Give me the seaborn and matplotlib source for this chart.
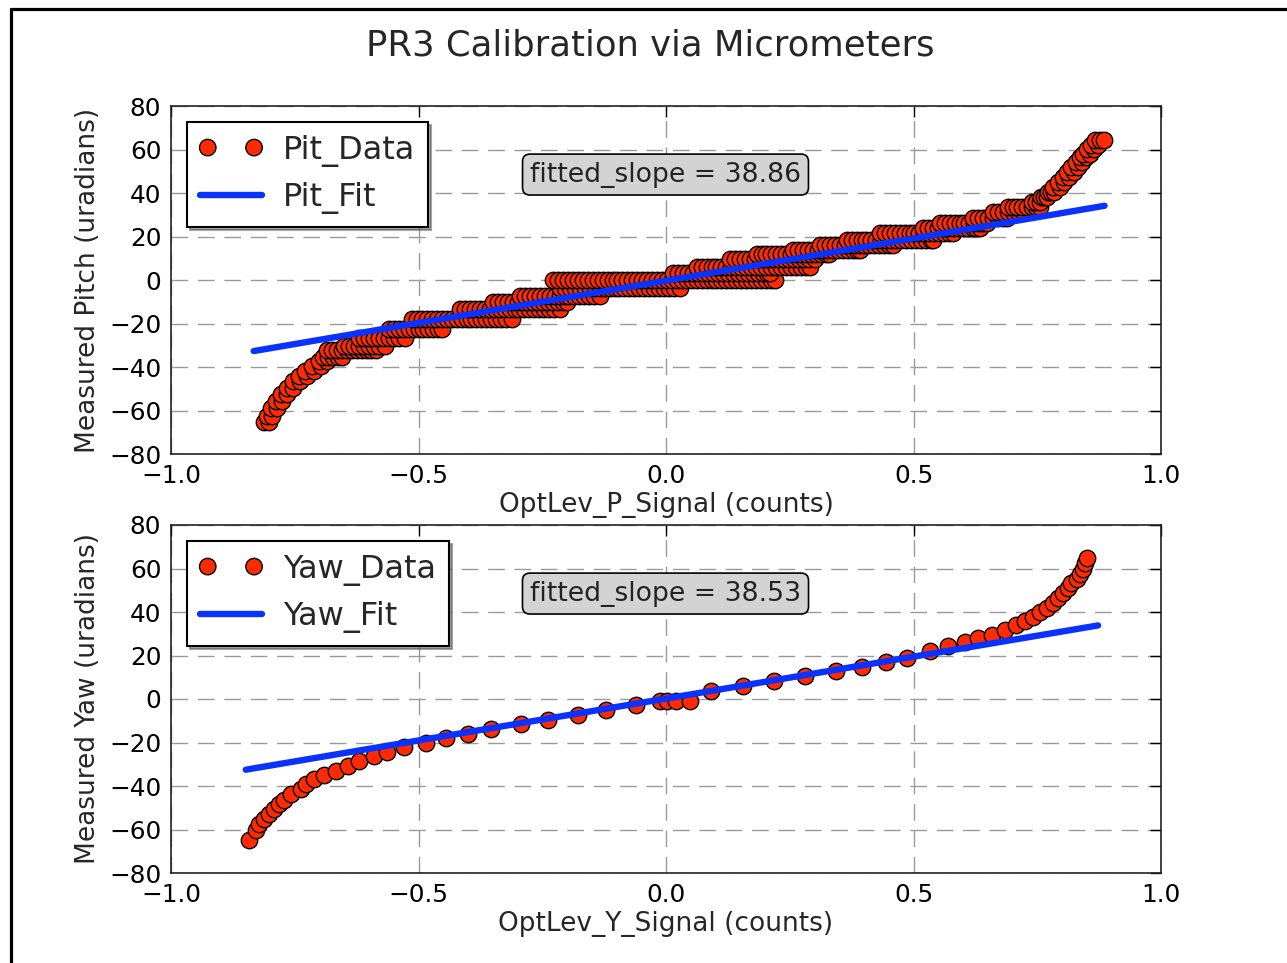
import numpy as np
import pandas as pd
import matplotlib
matplotlib.use("Agg")
import matplotlib.pyplot as plt
from matplotlib.lines import Line2D
from matplotlib.collections import PathCollection
from matplotlib.legend_handler import HandlerPathCollection
import seaborn as sns

# ---------------- data ----------------
title = "PR3 Calibration via Micrometers"

# Pitch calibration: micrometer levels (uradians) and the signal readings at each level
pit_levels = [-65.2, -62.5, -58.7, -55.6, -52.6, -49.5, -46.5, -44.2, -41.9, -39.6,
              -37.3, -35.3, -32.3, -30.5, -26.5, -22.5, -18.0, -13.4, -10.3, -7.3,
              -3.5, 0.0, 3.2, 6.2, 9.5, 11.8, 13.8, 16.1, 18.5, 21.4,
              23.7, 26.0, 28.3, 31.3, 33.6, 35.9, 38.2, 40.5, 42.8, 45.1,
              47.4, 49.7, 52.0, 54.3, 56.6, 58.1, 60.4, 62.0, 64.2]
pit_signal = [
    [-0.812, -0.803],
    [-0.806, -0.796],
    [-0.797, -0.786],
    [-0.787, -0.776],
    [-0.777, -0.765],
    [-0.766, -0.753],
    [-0.754, -0.740],
    [-0.742, -0.726],
    [-0.729, -0.712],
    [-0.715, -0.697],
    [-0.702, -0.684],
    [-0.692, -0.682, -0.672, -0.662, -0.655],
    [-0.685, -0.675, -0.665, -0.655, -0.645, -0.635, -0.625, -0.615, -0.605, -0.595, -0.585],
    [-0.650, -0.640, -0.630, -0.620, -0.610, -0.600, -0.590, -0.580, -0.567],
    [-0.620, -0.610, -0.600, -0.590, -0.580, -0.570, -0.560, -0.550, -0.540, -0.527],
    [-0.560, -0.550, -0.540, -0.530, -0.520, -0.510, -0.500, -0.490, -0.480, -0.470, -0.460, -0.453],
    [-0.513, -0.503, -0.493, -0.483, -0.473, -0.463, -0.453, -0.443, -0.433, -0.423, -0.413,
     -0.403, -0.393, -0.383, -0.373, -0.363, -0.353, -0.343, -0.333, -0.323, -0.311],
    [-0.416, -0.406, -0.396, -0.386, -0.376, -0.366, -0.356, -0.346, -0.336, -0.326, -0.316,
     -0.306, -0.296, -0.286, -0.276, -0.266, -0.256, -0.246, -0.236, -0.226, -0.214],
    [-0.349, -0.339, -0.329, -0.319, -0.309, -0.299, -0.289, -0.279, -0.269, -0.259, -0.249,
     -0.239, -0.229, -0.219, -0.209, -0.200],
    [-0.295, -0.285, -0.275, -0.265, -0.255, -0.245, -0.235, -0.225, -0.215, -0.205, -0.195,
     -0.185, -0.175, -0.165, -0.155, -0.145, -0.134],
    [-0.214, -0.204, -0.194, -0.184, -0.174, -0.164, -0.154, -0.144, -0.134, -0.124, -0.114,
     -0.104, -0.094, -0.084, -0.074, -0.064, -0.054, -0.044, -0.034, -0.024, -0.014, -0.004,
     0.006, 0.016, 0.028],
    [-0.228, -0.218, -0.208, -0.198, -0.188, -0.178, -0.168, -0.158, -0.148, -0.138, -0.128,
     -0.118, -0.108, -0.098, -0.088, -0.078, -0.068, -0.058, -0.048, -0.038, -0.028, -0.018,
     -0.008, 0.002, 0.012, 0.022, 0.032, 0.042, 0.052, 0.062, 0.072, 0.082, 0.092, 0.102,
     0.112, 0.122, 0.132, 0.142, 0.152, 0.162, 0.172, 0.182, 0.192, 0.202, 0.212, 0.220],
    [0.015, 0.025, 0.035, 0.045, 0.055, 0.065, 0.075, 0.085, 0.095, 0.105, 0.115, 0.125,
     0.135, 0.145, 0.155, 0.165, 0.175, 0.185, 0.195, 0.205, 0.210],
    [0.062, 0.072, 0.082, 0.092, 0.102, 0.112, 0.122, 0.132, 0.142, 0.152, 0.162, 0.172,
     0.182, 0.192, 0.202, 0.212, 0.222, 0.232, 0.242, 0.252, 0.262, 0.272, 0.282, 0.290],
    [0.129, 0.139, 0.149, 0.159, 0.169, 0.179, 0.189, 0.199, 0.209, 0.219, 0.229, 0.239,
     0.249, 0.259, 0.269, 0.279, 0.289, 0.300],
    [0.183, 0.193, 0.203, 0.213, 0.223, 0.233, 0.243, 0.253, 0.263, 0.273, 0.283, 0.293,
     0.303, 0.313, 0.323, 0.330],
    [0.257, 0.267, 0.277, 0.287, 0.297, 0.307, 0.317, 0.327, 0.337, 0.347, 0.357, 0.367,
     0.377, 0.385, 0.392],
    [0.311, 0.321, 0.331, 0.341, 0.351, 0.361, 0.371, 0.381, 0.391, 0.401, 0.411, 0.421,
     0.431, 0.441, 0.451, 0.459],
    [0.365, 0.375, 0.385, 0.395, 0.405, 0.415, 0.425, 0.435, 0.445, 0.455, 0.465, 0.475,
     0.485, 0.495, 0.505, 0.515, 0.525, 0.535, 0.540],
    [0.432, 0.442, 0.452, 0.462, 0.472, 0.482, 0.492, 0.502, 0.512, 0.522, 0.532, 0.542,
     0.552, 0.562, 0.572, 0.580],
    [0.520, 0.530, 0.540, 0.550, 0.560, 0.570, 0.580, 0.590, 0.600, 0.610, 0.620, 0.627, 0.634],
    [0.553, 0.563, 0.573, 0.583, 0.593, 0.603, 0.613, 0.623, 0.633, 0.641, 0.648],
    [0.620, 0.630, 0.640, 0.650, 0.660, 0.670, 0.680, 0.688],
    [0.661, 0.671, 0.681, 0.691, 0.701, 0.711, 0.722],
    [0.690, 0.700, 0.710, 0.720, 0.730, 0.740, 0.748, 0.755],
    [0.740, 0.748, 0.755],
    [0.757, 0.764, 0.770],
    [0.771, 0.778, 0.784],
    [0.782, 0.795],
    [0.792, 0.805],
    [0.802, 0.815],
    [0.811, 0.824],
    [0.819, 0.832],
    [0.829, 0.841],
    [0.836, 0.849],
    [0.843, 0.856],
    [0.850, 0.864],
    [0.858, 0.873],
    [0.866, 0.876, 0.884],
]
pit_slope = 38.86
pit_intercept = -0.3
pit_fit_x = [-0.833, 0.886]

# Yaw calibration
yaw_signal = [-0.842, -0.829, -0.822, -0.812, -0.802, -0.792, -0.782, -0.772, -0.758, -0.738,
              -0.728, -0.711, -0.691, -0.667, -0.643, -0.620, -0.590, -0.563, -0.529, -0.485,
              -0.444, -0.401, -0.354, -0.293, -0.239, -0.178, -0.121, -0.060, -0.013, 0.003,
              0.021, 0.048, 0.091, 0.155, 0.219, 0.280, 0.344, 0.395, 0.445, 0.486,
              0.533, 0.570, 0.604, 0.631, 0.658, 0.685, 0.708, 0.725, 0.742, 0.755,
              0.769, 0.782, 0.792, 0.802, 0.813, 0.819, 0.830, 0.836, 0.843, 0.847, 0.850]
yaw_measured = [-64.9, -60.3, -57.3, -55.0, -52.7, -50.4, -48.1, -46.3, -43.6, -41.3,
                -39.0, -36.7, -34.9, -32.9, -30.6, -28.3, -26.1, -24.2, -22.2, -20.0,
                -18.1, -16.2, -13.9, -11.6, -9.6, -7.3, -5.2, -2.7, -0.9, -0.9,
                -0.9, -0.9, 3.7, 5.9, 8.2, 10.5, 12.8, 14.8, 16.9, 18.9,
                21.9, 24.2, 26.2, 28.0, 29.6, 31.9, 33.8, 36.0, 37.9, 39.9,
                41.7, 44.0, 46.3, 48.6, 50.9, 53.2, 55.4, 57.7, 60.0, 62.3, 64.6]
yaw_slope = 38.53
yaw_intercept = 0.2
yaw_fit_x = [-0.849, 0.873]

x_ticks = [-1.0, -0.5, 0.0, 0.5, 1.0]
y_ticks = [-80, -60, -40, -20, 0, 20, 40, 60, 80]

# ---------------- style ----------------
sns.set_style("white")
plt.rcParams['font.family'] = ['DejaVu Sans']
plt.rcParams['axes.unicode_minus'] = True

RED = '#ff2a00'
BLUE = '#0a32ff'
MSIZE = 140

W, H = 1287, 963
fig = plt.figure(figsize=(W / 100, H / 100), dpi=100)
fig.patch.set_facecolor('white')

ax1 = fig.add_axes([171 / W, 1 - 454 / H, 990 / W, 348 / H])
ax2 = fig.add_axes([171 / W, 1 - 873 / H, 990 / W, 348 / H])

pit_df = pd.DataFrame({
    'signal': [x for xs in pit_signal for x in xs],
    'measured': [lv for lv, xs in zip(pit_levels, pit_signal) for _ in xs],
})
yaw_df = pd.DataFrame({'signal': yaw_signal, 'measured': yaw_measured})


def panel(ax, df, fit_x, slope, intercept, dlabel, flabel, xlabel, ylabel, slope_txt):
    sns.scatterplot(data=df, x='signal', y='measured', ax=ax, color=RED,
                    edgecolor='black', linewidth=1.0, s=MSIZE, label=dlabel, zorder=3)
    fx = np.array(fit_x)
    sns.lineplot(x=fx, y=slope * fx + intercept, ax=ax, color=BLUE,
                 linewidth=4.6, label=flabel, zorder=4)
    ax.set_xlim(-1, 1)
    ax.set_ylim(-80, 80)
    ax.set_xticks(x_ticks)
    ax.set_yticks(y_ticks)
    ax.grid(True, color='#9a9a9a', linestyle=(0, (12, 7)), linewidth=1.0)
    ax.set_axisbelow(True)
    ax.tick_params(direction='in', length=8, width=1, top=True, right=True,
                   labelsize=17.8, pad=7, colors='black')
    for sp in ax.spines.values():
        sp.set_color('#222222')
        sp.set_linewidth(1.2)
    ax.set_xlabel(xlabel, fontsize=19)
    ax.set_ylabel(ylabel, fontsize=19)
    ax.xaxis.set_label_coords(0.5, -0.108)
    ax.yaxis.set_label_coords(-0.071, 0.5)
    leg = ax.legend(loc='upper left', scatterpoints=2, scatteryoffsets=[0.5],
                    shadow=True, fancybox=False,
                    frameon=True, fontsize=23, framealpha=1, edgecolor='black',
                    borderaxespad=0.5, borderpad=0.4, handlelength=1.95,
                    handletextpad=0.66, labelspacing=0.49,
                    handler_map={PathCollection: HandlerPathCollection(
                        marker_pad=0.25, sizes=[MSIZE, MSIZE])})
    leg.get_frame().set_linewidth(1.5)
    ax.text(0.4995, 0.803, slope_txt, transform=ax.transAxes, ha='center', va='center',
            fontsize=19.2, color='#222222',
            bbox=dict(boxstyle='round,pad=0.28', facecolor='#d3d3d3',
                      edgecolor='black', linewidth=1.2))


panel(ax1, pit_df, pit_fit_x, pit_slope, pit_intercept, 'Pit_Data', 'Pit_Fit',
      'OptLev_P_Signal (counts)', 'Measured Pitch (uradians)', 'fitted_slope = 38.86')
panel(ax2, yaw_df, yaw_fit_x, yaw_slope, yaw_intercept, 'Yaw_Data', 'Yaw_Fit',
      'OptLev_Y_Signal (counts)', 'Measured Yaw (uradians)', 'fitted_slope = 38.53')

fig.text(650 / W, 1 - 45 / H, title, ha='center', va='center', fontsize=25.5)

# outer frame of the original figure (left and top edges visible)
fig.add_artist(Line2D([10.5 / W, 10.5 / W], [0, 1 - 9.5 / H], transform=fig.transFigure,
                      color='black', linewidth=2.3))
fig.add_artist(Line2D([10.5 / W, 1.0], [1 - 9.5 / H, 1 - 9.5 / H], transform=fig.transFigure,
                      color='black', linewidth=2.3))

fig.savefig('out.png', dpi=100, facecolor='white')
